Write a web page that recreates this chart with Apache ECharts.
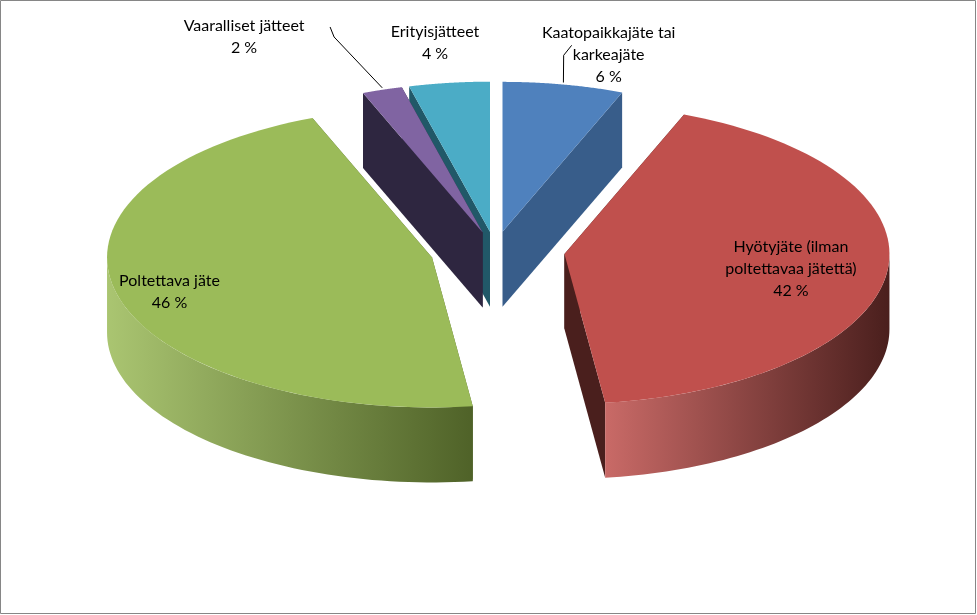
<!DOCTYPE html>
<html><head><meta charset="utf-8">
<script src="https://cdn.jsdelivr.net/npm/echarts@6/dist/echarts.min.js"></script>
<style>html,body{margin:0;padding:0;background:#fff}#c{width:977px;height:615px}</style>
</head><body><div id="c"></div>
<script>
const categories = ['Kaatopaikkajäte tai\nkarkeajäte', 'Hyötyjäte (ilman\npoltettavaa jätettä)', 'Poltettava jäte', 'Vaaralliset jätteet', 'Erityisjätteet'];
const values = [6, 42, 46, 2, 4];
const topColors = ['#4F81BD', '#C0504D', '#9BBB59', '#8064A2', '#4BACC6'];
const sideColors = ['#385D8A', '#4A1F1D', '#4F6228', '#2E2640', '#215868'];
const explode = [40, 70, 65, 40, 40];
const labelInside = [false, true, true, false, false];
const labelNudge = [[27, 15], [-25, -20], [-17, -15], [-108, -10], [-2, 5]];

const chart = echarts.init(document.getElementById('c'));
const CX = 495, CY = 250, RX = 325, RY = 150, DEPTH = 75;
const total = values.reduce((a, b) => a + b, 0);
const slices = [];
let acc = 0;
values.forEach((v, i) => {
  const a0 = acc / total * 360, a1 = (acc + v) / total * 360; acc += v;
  slices.push({ i, v, a0, a1, mid: (a0 + a1) / 2 });
});
const rad = d => d * Math.PI / 180;
function pt(cx, cy, a, r) { return [cx + RX * r * Math.sin(rad(a)), cy - RY * r * Math.cos(rad(a))]; }

function renderItem(params, api) {
  const children = [];
  const order = slices.slice().sort((a, b) => Math.cos(rad(b.mid)) - Math.cos(rad(a.mid)));
  order.forEach(s => {
    const e = explode[s.i];
    const cx = CX + e * Math.sin(rad(s.mid)), cy = CY - e * Math.cos(rad(s.mid)) * RY / RX;
    const faces = [s.a0, s.a1].map(a => {
      const p = pt(cx, cy, a, 1);
      return { a, poly: [[cx, cy], p, [p[0], p[1] + DEPTH], [cx, cy + DEPTH]] };
    });
    faces.sort((f, g) => Math.cos(rad(g.a)) - Math.cos(rad(f.a)));
    faces.forEach(f => children.push({ type: 'polygon', shape: { points: f.poly }, style: { fill: sideColors[s.i] } }));
    const lo = Math.max(s.a0, 90), hi = Math.min(s.a1, 270);
    if (hi > lo) {
      const top = [], bot = [];
      for (let k = 0; k <= 60; k++) {
        const a = lo + (hi - lo) * k / 60;
        const p = pt(cx, cy, a, 1);
        top.push(p); bot.unshift([p[0], p[1] + DEPTH]);
      }
      children.push({ type: 'polygon', shape: { points: top.concat(bot) }, style: {
        fill: new echarts.graphic.LinearGradient(0, 0, 1, 0, [
          { offset: 0, color: echarts.color.lift(topColors[s.i], 0.15) },
          { offset: 1, color: sideColors[s.i] }]) } });
    }
    const pts = [[cx, cy]];
    for (let k = 0; k <= 80; k++) pts.push(pt(cx, cy, s.a0 + (s.a1 - s.a0) * k / 80, 1));
    children.push({ type: 'polygon', shape: { points: pts }, style: { fill: topColors[s.i] } });
  });
  slices.forEach(s => {
    const e = explode[s.i];
    const cx = CX + e * Math.sin(rad(s.mid)), cy = CY - e * Math.cos(rad(s.mid)) * RY / RX;
    const txt = categories[s.i] + '\n' + s.v + ' %';
    const style = { text: txt, fill: '#000', font: '16px Lato', align: 'center', verticalAlign: 'middle', lineHeight: 22 };
    if (labelInside[s.i]) {
      const p = pt(cx, cy, s.mid, 0.78);
      children.push({ type: 'text', x: p[0] + labelNudge[s.i][0], y: p[1] + labelNudge[s.i][1] + 20, style });
    } else {
      const edge = pt(cx, cy, s.mid, 1);
      const p = pt(cx, cy, s.mid, 1.3);
      const lx = p[0] + labelNudge[s.i][0], ly = p[1] + labelNudge[s.i][1];
      children.push({ type: 'text', x: lx, y: ly, style });
      if (s.i !== 4) {
        const endX = s.i === 0 ? lx - 45 : lx + 90;
        children.push({ type: 'polyline', shape: { points: [[edge[0], edge[1] - 2], [endX, ly], [endX + (s.i === 0 ? 8 : -4), ly - 10]] }, style: { stroke: '#000', lineWidth: 1, fill: null } });
      }
    }
  });
  return { type: 'group', children };
}

chart.setOption({
  animation: false,
  backgroundColor: '#fff',
  graphic: [{ type: 'rect', shape: { x: 0.5, y: 0.5, width: 975, height: 613 }, style: { fill: null, stroke: '#868686', lineWidth: 1 } }],
  series: [{ type: 'custom', coordinateSystem: 'none', renderItem, data: [0] }]
});
</script></body></html>
